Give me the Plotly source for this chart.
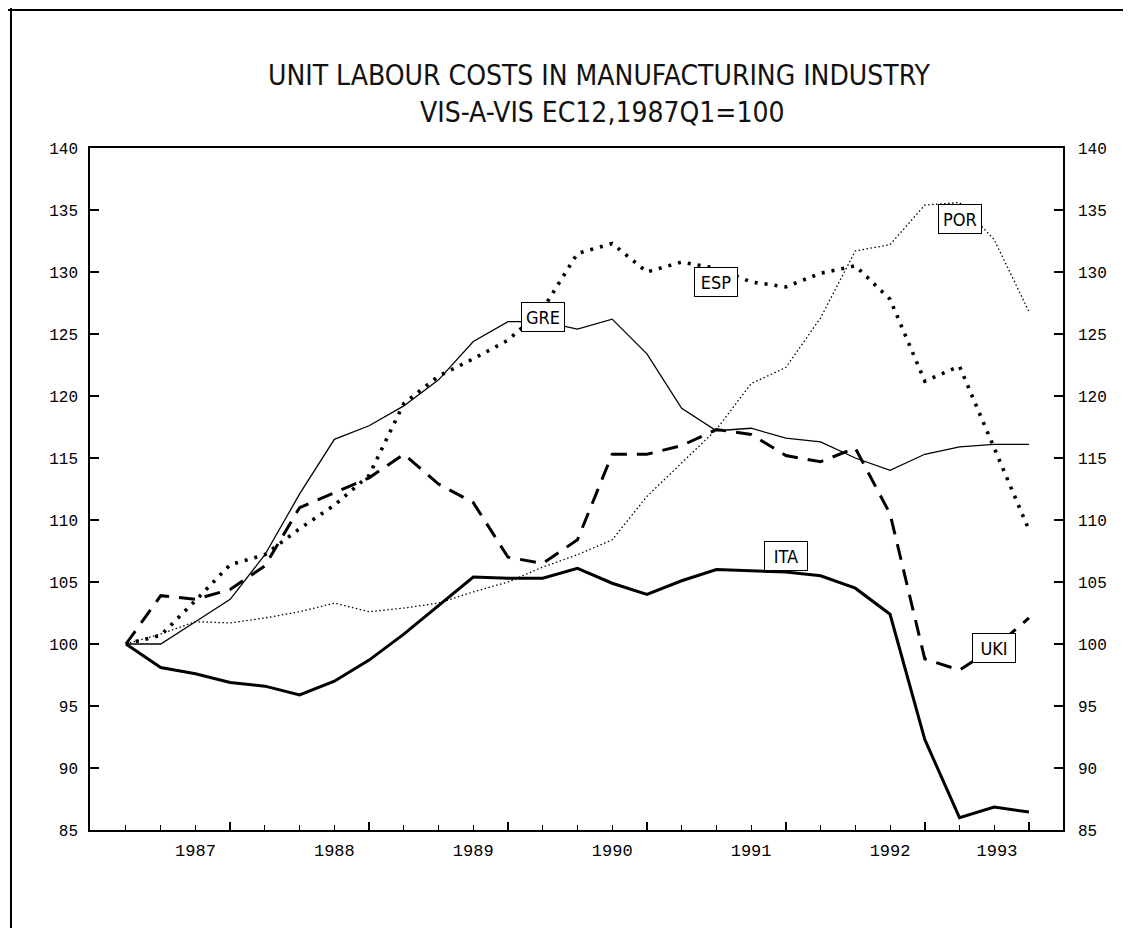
import plotly.graph_objects as go

# ---------------- data ----------------
quarters = ["1987Q1", "1987Q2", "1987Q3", "1987Q4",
            "1988Q1", "1988Q2", "1988Q3", "1988Q4",
            "1989Q1", "1989Q2", "1989Q3", "1989Q4",
            "1990Q1", "1990Q2", "1990Q3", "1990Q4",
            "1991Q1", "1991Q2", "1991Q3", "1991Q4",
            "1992Q1", "1992Q2", "1992Q3", "1992Q4",
            "1993Q1", "1993Q2", "1993Q3"]

ita = [100.0, 98.1, 97.6, 96.9, 96.6, 95.9, 97.0, 98.7, 100.8, 103.1, 105.4, 105.3, 105.3, 106.1,
       104.9, 104.0, 105.1, 106.0, 105.9, 105.8, 105.5, 104.5, 102.4, 92.3, 86.0, 86.85, 86.45]
gre = [100.0, 100.0, 101.8, 103.6, 107.2, 112.1, 116.5, 117.6, 119.2, 121.3, 124.4, 126.0, 126.0, 125.4,
       126.2, 123.4, 119.0, 117.2, 117.4, 116.6, 116.3, 115.0, 114.0, 115.3, 115.9, 116.1, 116.1]
esp = [100.0, 100.7, 103.5, 106.4, 107.2, 109.3, 111.2, 113.6, 119.4, 121.6, 123.0, 124.5, 127.0, 131.5,
       132.3, 130.0, 130.8, 130.3, 129.2, 128.8, 129.9, 130.5, 127.8, 121.2, 122.4, 115.8, 109.2]
uki = [100.0, 103.9, 103.6, 104.4, 106.3, 111.0, 112.2, 113.4, 115.3, 112.9, 111.4, 107.0, 106.5, 108.4,
       115.3, 115.3, 116.0, 117.3, 116.9, 115.2, 114.7, 115.8, 110.5, 98.8, 97.9, 99.7, 102.1]
por = [100.0, 100.8, 101.8, 101.7, 102.1, 102.6, 103.3, 102.6, 102.9, 103.3, 104.2, 105.0, 106.2, 107.2,
       108.4, 111.9, 114.6, 117.3, 121.0, 122.3, 126.3, 131.7, 132.2, 135.4, 135.6, 132.6, 126.8]

series_names = ["GRE", "ESP", "POR", "ITA", "UKI"]
# label box anchor (quarter, value)
label_quarters = ["1990Q1", "1991Q2", "1993Q1", "1991Q4", "1993Q2"]
label_values = [126.4, 129.2, 134.3, 107.1, 99.7]

year_labels = ["1987", "1988", "1989", "1990", "1991", "1992", "1993"]
year_label_pos = [1987.5, 1988.5, 1989.5, 1990.5, 1991.5, 1992.5, 1993.27]
major_tick_pos = [1987.75, 1988.75, 1989.75, 1990.75, 1991.75, 1992.75, 1993.5]
y_ticks = [85, 90, 95, 100, 105, 110, 115, 120, 125, 130, 135, 140]

title_1 = "UNIT LABOUR COSTS IN MANUFACTURING INDUSTRY"
title_2 = "VIS-A-VIS EC12,1987Q1=100"


def qpos(q):
    return int(q[:4]) + (int(q[5]) - 1) / 4.0


x = [qpos(q) for q in quarters]

# ---------------- figure ----------------
W, H = 1131, 928
L, R, T, B = 82, 76, 140, 106
XR = [1986.741, 1993.745]
YR = [85, 140]
FONT = "Liberation Mono, DejaVu Sans Mono, monospace"
TFONT = "Liberation Sans Narrow, DejaVu Sans Condensed, Liberation Mono, sans-serif"

fig = go.Figure()

styles = {
    "ITA": dict(color="black", width=3.0, dash="solid"),
    "GRE": dict(color="black", width=1.3, dash="solid"),
    "UKI": dict(color="black", width=3.0, dash="16px,10px"),
    "ESP": dict(color="black", width=3.6, dash="3px,7px"),
    "POR": dict(color="black", width=1.3, dash="1.5px,2.5px"),
}
data = {"ITA": ita, "GRE": gre, "UKI": uki, "ESP": esp, "POR": por}
for name in ["POR", "GRE", "ESP", "UKI", "ITA"]:
    fig.add_trace(go.Scatter(x=x, y=data[name], mode="lines", name=name,
                             line=styles[name], showlegend=False, hoverinfo="skip"))

# helper traces for the extra axes
fig.add_trace(go.Scatter(x=[year_label_pos[0]], y=[None], xaxis="x2", yaxis="y",
                         showlegend=False, hoverinfo="skip", mode="lines"))
fig.add_trace(go.Scatter(x=[x[0]], y=[None], xaxis="x", yaxis="y2",
                         showlegend=False, hoverinfo="skip", mode="lines"))

for name, q, v in zip(series_names, label_quarters, label_values):
    fig.add_annotation(x=qpos(q), y=v, xref="x", yref="y", text=name, showarrow=False,
                       font=dict(family=TFONT, size=18, color="black"),
                       bgcolor="white", bordercolor="black", borderwidth=1,
                       width=40, height=26, align="center", valign="middle")

pw, ph = W - L - R, H - T - B


def px2paper_x(px):
    return (px - L) / pw


def px2paper_y(py):
    return (H - B - py) / ph


fig.add_annotation(x=px2paper_x(591), y=px2paper_y(67), xref="paper", yref="paper",
                   text=title_1, showarrow=False, xanchor="center", yanchor="middle",
                   font=dict(family=TFONT, size=28, color="#111111"))
fig.add_annotation(x=px2paper_x(594), y=px2paper_y(104), xref="paper", yref="paper",
                   text=title_2, showarrow=False, xanchor="center", yanchor="middle",
                   font=dict(family=TFONT, size=28, color="#111111"))

# page border lines
border = dict(color="black", width=2)
fig.add_shape(type="line", xref="paper", yref="paper", x0=px2paper_x(3), x1=px2paper_x(3),
              y0=px2paper_y(0), y1=px2paper_y(H), line=border)
fig.add_shape(type="line", xref="paper", yref="paper", x0=px2paper_x(0), x1=px2paper_x(W),
              y0=px2paper_y(2), y1=px2paper_y(2), line=border)
fig.add_shape(type="line", xref="paper", yref="paper", x0=px2paper_x(1128), x1=px2paper_x(1128),
              y0=px2paper_y(0), y1=px2paper_y(H), line=dict(color="black", width=1.5))

ytickfont = dict(family=FONT, size=16, color="black")
xtickfont = dict(family=FONT, size=17, color="black")
fig.update_layout(
    width=W, height=H, autosize=False,
    margin=dict(l=L, r=R, t=T, b=B, pad=0),
    paper_bgcolor="white", plot_bgcolor="white",
    xaxis=dict(range=XR, tickmode="array", tickvals=major_tick_pos, ticks="inside",
               ticklen=8, tickwidth=2, tickcolor="black", showticklabels=False,
               showline=True, linecolor="black", linewidth=1.5, mirror=True,
               showgrid=False, zeroline=False,
               minor=dict(tickmode="array", tickvals=x, ticks="inside", ticklen=5,
                          tickwidth=1, tickcolor="black", showgrid=False)),
    xaxis2=dict(range=XR, overlaying="x", anchor="y", side="bottom", tickmode="array",
                tickvals=year_label_pos, ticktext=year_labels, ticks="", showline=False,
                showgrid=False, zeroline=False, tickfont=xtickfont, ticklabelstandoff=8),
    yaxis=dict(range=YR, tickmode="array", tickvals=y_ticks, ticks="inside", ticklen=9,
               tickwidth=1.5, tickcolor="black", showline=True, linecolor="black",
               linewidth=1.5, showgrid=False, zeroline=False, tickfont=ytickfont,
               ticklabelstandoff=7),
    yaxis2=dict(range=YR, overlaying="y", anchor="x", side="right", tickmode="array",
                tickvals=y_ticks, ticks="inside", ticklen=9, tickwidth=1.5, tickcolor="black",
                showline=True, linecolor="black", linewidth=1.5, showgrid=False,
                zeroline=False, tickfont=ytickfont, ticklabelstandoff=10),
)

fig.write_html("out.html")
